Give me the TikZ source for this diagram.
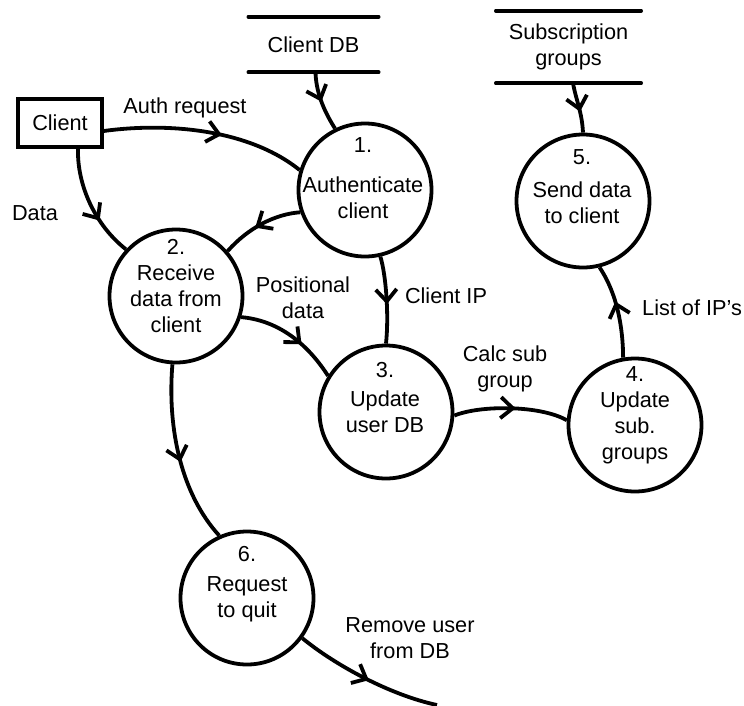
\documentclass[tikz,border=0pt]{standalone}
\usepackage{fontspec}
\setmainfont{Liberation Sans}
\usetikzlibrary{arrows.meta,decorations.markings}
\begin{document}
\begin{tikzpicture}[x=1pt,y=-1pt,
  every node/.style={font=\fontsize{21.7}{26}\selectfont, inner sep=0pt},
  proc/.style={circle, draw, line width=3.8pt, minimum size=133pt},
  proctext/.style={align=center},
  entity/.style={rectangle, draw, line width=3.4pt, minimum width=84pt, minimum height=48pt},
  store/.style={inner sep=0pt},
  storeline/.style={line width=3.6pt, line cap=round},
  flow/.style={line width=3.8pt, postaction={decorate},
    decoration={markings, mark=at position #1 with
      {\arrow{Straight Barb[length=12pt,width=21pt,line width=3.8pt]}}}},
  flow/.default=0.5]
\useasboundingbox (0,0) rectangle (744,705);

% external entity and data stores
\node[entity] (client) at (60,123) {Client};
\node[store, minimum width=130pt, minimum height=55pt] (cdb) at (313.5,44.5) {Client DB};
\node[store, align=center, minimum width=145pt, minimum height=72pt] (sg) at (568.5,47) {Subscription\\groups};
\draw[storeline] (cdb.north west) -- (cdb.north east);
\draw[storeline] (cdb.south west) -- (cdb.south east);
\draw[storeline] (sg.north west) -- (sg.north east);
\draw[storeline] (sg.south west) -- (sg.south east);

% processes
\node[proc] (p1) at (365,190) {};
\node[proctext] (t1) at (363,178.3) {1.\\[14pt]Authenticate\\client};
\node[proc] (p2) at (176,296) {};
\node[proctext] (t2) at (176,286) {2.\\Receive\\data from\\client};
\node[proc] (p3) at (386,412) {};
\node[proctext] (t3) at (385,398) {3.\\[3pt]Update\\user DB};
\node[proc] (p4) at (635,425) {};
\node[proctext] (t4) at (635,415) {4.\\Update\\sub.\\groups};
\node[proc] (p5) at (583,201) {};
\node[proctext] (t5) at (582,187) {5.\\[7pt]Send data\\to client};
\node[proc] (p6) at (247,598) {};
\node[proctext] (t6) at (247,584.5) {6.\\[4pt]Request\\to quit};
\coordinate (out) at (437,705);

% data flows
\draw[flow=0.5] ([xshift=2pt]cdb.south) .. controls (316,90) and (322,108) .. (p1.116);
\draw[flow=0.58] ([xshift=4.5pt]sg.south) .. controls (576,100) and (582,112) .. (p5.90);
\draw[flow=0.58] ([yshift=-8pt]client.east) .. controls (170,122) and (250,130) .. (p1.163);
\draw[flow=0.66] ([xshift=18pt]client.south) .. controls (77,185) and (95,225) .. (p2.137);
\draw[flow=0.57] (p1.199) .. controls (275,214) and (248,228) .. (p2.41);
\draw[flow=0.62] (p2.-18) .. controls (275,320) and (305,340) .. (p3.148);
\draw[flow=0.55] (p1.-77) .. controls (386,275) and (389,315) .. (p3.90);
\draw[flow=0.54] (p3.-3) .. controls (480,405) and (540,405) .. (p4.176);
\draw[flow=0.6] (p4.100) .. controls (623,330) and (618,295) .. (p5.-76);
\draw[flow=0.54] (p2.267) .. controls (167,430) and (182,495) .. (p6.114);
\draw[flow=0.52] (p6.-36) .. controls (335,665) and (390,695) .. (out);

% flow labels
\node[anchor=base] (lauth) at (185,113) {Auth request};
\node[anchor=base] (ldata) at (35,220) {Data};
\node[align=center] (lpos) at (303,297.3) {Positional\\data};
\node[anchor=base] (lip) at (446,303) {Client IP};
\node[align=center] (lcalc) at (505,369) {Calc sub\\group};
\node[anchor=base west] (llist) at (642,315) {List of IP’s};
\node[align=center] (lrem) at (410,638) {Remove user\\from DB};
\end{tikzpicture}
\end{document}
